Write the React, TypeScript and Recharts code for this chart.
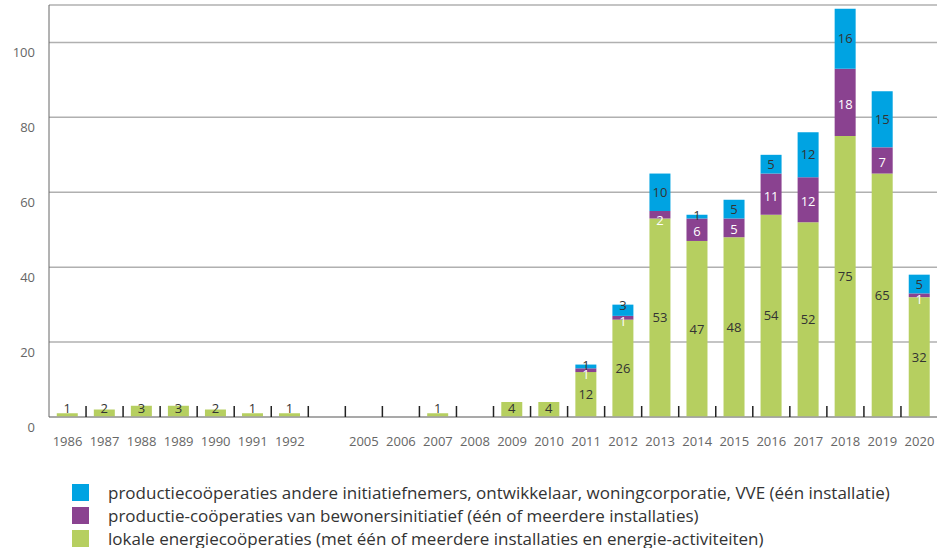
import { Bar, BarChart, CartesianGrid, LabelList, XAxis, YAxis } from "recharts"

const years = [
  "1986", "1987", "1988", "1989", "1990", "1991", "1992", "",
  "2005", "2006", "2007", "2008", "2009", "2010", "2011", "2012",
  "2013", "2014", "2015", "2016", "2017", "2018", "2019", "2020",
]

const lokaal = [1, 2, 3, 3, 2, 1, 1, null, null, null, 1, null, 4, 4, 12, 26, 53, 47, 48, 54, 52, 75, 65, 32]
const bewoners = [null, null, null, null, null, null, null, null, null, null, null, null, null, null, 1, 1, 2, 6, 5, 11, 12, 18, 7, 1]
const andere = [null, null, null, null, null, null, null, null, null, null, null, null, null, null, 1, 3, 10, 1, 5, 5, 12, 16, 15, 5]

const yTicks = [0, 20, 40, 60, 80, 100]

const series = [
  { key: "andere", color: "#00a3e2", label: "productiecoöperaties andere initiatiefnemers, ontwikkelaar, woningcorporatie, VVE (één installatie)" },
  { key: "bewoners", color: "#8a4290", label: "productie-coöperaties van bewonersinitiatief (één of meerdere installaties)" },
  { key: "lokaal", color: "#b6cf60", label: "lokale energiecoöperaties (met één of meerdere installaties en energie-activiteiten)" },
]

const data = years.map((year, i) => ({
  year,
  lokaal: lokaal[i],
  bewoners: bewoners[i],
  andere: andere[i],
}))

const font = "'Open Sans', sans-serif"

// year label under each band, small upward tick on the band boundary
const XTick = (props: any) => {
  const { x, y, payload } = props
  const half = Number(payload.offset) || 18.5
  const last = payload.value === years[years.length - 1]
  return (
    <g>
      <text x={x} y={y + 29} textAnchor="middle" fill="#666" fontSize={13} fontFamily={font}>
        {payload.value}
      </text>
      {!last && <rect x={x + half - 0.75} y={y - 11} width={1.5} height={11} fill="#222" />}
    </g>
  )
}

const YTick = (props: any) => {
  const { x, y, payload } = props
  return (
    <text x={x} y={y + 15} textAnchor="end" fill="#666" fontSize={13} fontFamily={font}>
      {payload.value}
    </text>
  )
}

type Place = "bottom" | "middle" | "top"

const makeLabel = (fill: string, place: Place) => (props: any) => {
  const { x, y, width, height, value } = props
  if (!value) return null
  let cy = y + height / 2
  if (place === "bottom" && height < 18) cy = y + height - 9
  if (place === "middle") cy = height < 8 ? y + height + 2 : cy + 2
  if (place === "top" && height < 12) cy = y + 1
  return (
    <text x={x + width / 2} y={cy} dy="0.35em" textAnchor="middle" fill={fill} fontSize={13} fontFamily={font}>
      {value}
    </text>
  )
}

export default function App() {
  return (
    <div style={{ position: "absolute", left: 0, top: 0, width: 937, height: 548, overflow: "hidden", fontFamily: font }}>
      <BarChart
        width={940}
        height={470}
        data={data}
        margin={{ top: 5, right: 2, left: 0, bottom: 13 }}
        barCategoryGap="21%"
      >
        <CartesianGrid vertical={false} stroke="#b0b0b0" strokeWidth={1.5} />
        <XAxis
          dataKey="year"
          height={40}
          tickSize={0}
          tickMargin={0}
          tick={XTick}
          interval={0}
          stroke="#a0a0a0"
          strokeWidth={1.5}
        />
        <YAxis
          width={49}
          domain={[0, 110]}
          ticks={yTicks}
          tickSize={0}
          tickMargin={14}
          tick={<YTick />}
          stroke="#666"
        />
        <Bar dataKey="lokaal" stackId="a" fill="#b6cf60" isAnimationActive={false}>
          <LabelList dataKey="lokaal" content={makeLabel("#333", "bottom")} />
        </Bar>
        <Bar dataKey="bewoners" stackId="a" fill="#8a4290" isAnimationActive={false}>
          <LabelList dataKey="bewoners" content={makeLabel("#fff", "middle")} />
        </Bar>
        <Bar dataKey="andere" stackId="a" fill="#00a3e2" isAnimationActive={false}>
          <LabelList dataKey="andere" content={makeLabel("#333", "top")} />
        </Bar>
      </BarChart>
      <div style={{ position: "absolute", left: 72, top: 480.5 }}>
        {series.map((s) => (
          <div key={s.key} style={{ display: "flex", alignItems: "center", height: 23 }}>
            <span style={{ width: 17, height: 17, background: s.color, display: "inline-block", marginRight: 19, flexShrink: 0 }} />
            <span style={{ fontSize: 17, lineHeight: "23px", color: "#333", whiteSpace: "nowrap" }}>{s.label}</span>
          </div>
        ))}
      </div>
    </div>
  )
}
